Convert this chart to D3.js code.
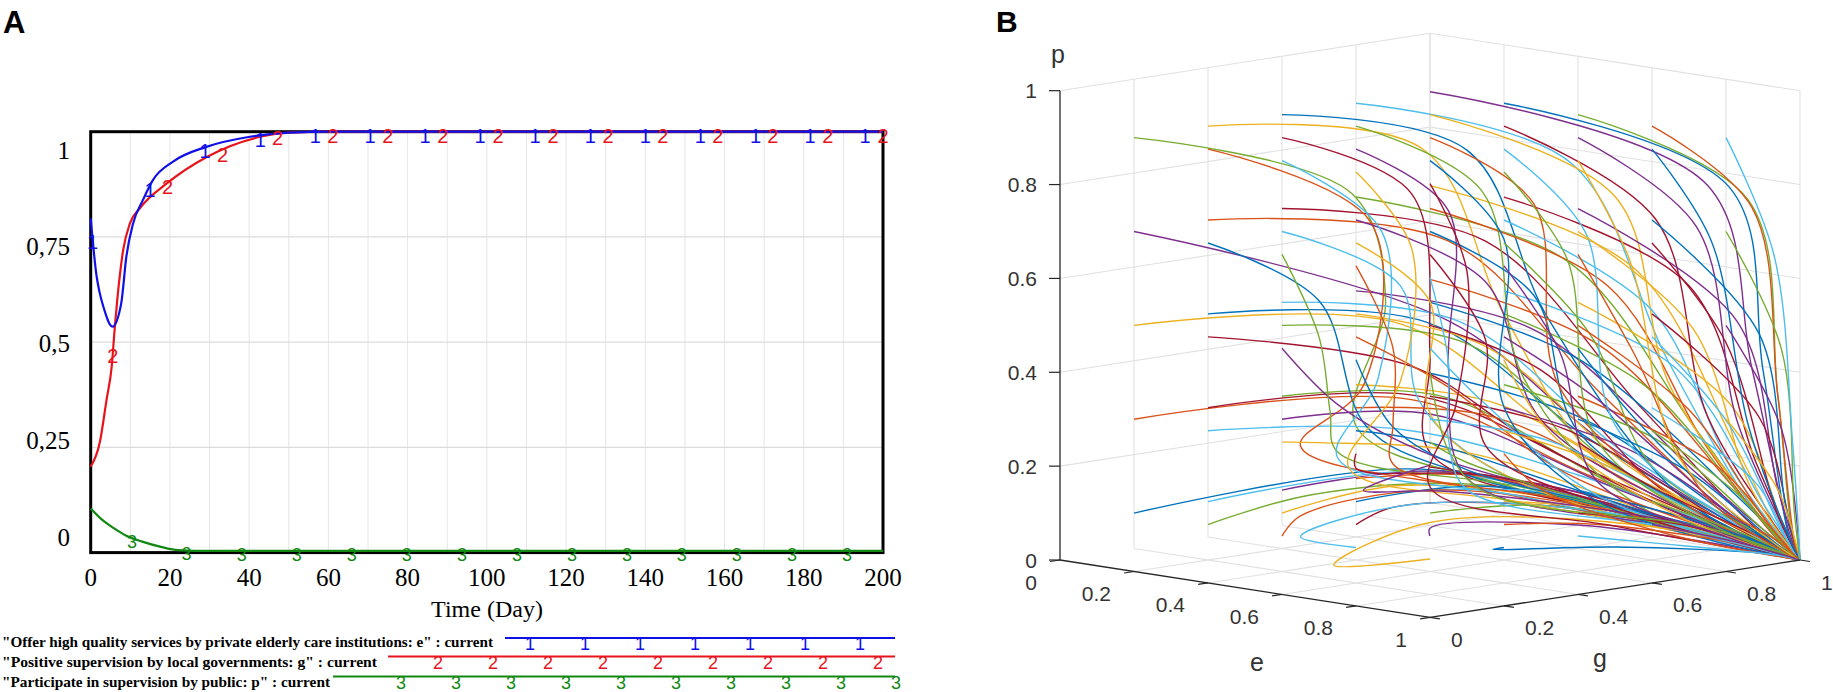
<!DOCTYPE html>
<html>
<head>
<meta charset="utf-8">
<script src="https://cdn.jsdelivr.net/npm/d3@7"></script>
<style>
  body { margin: 0; background: #fff; }
  svg { display: block; }
</style>
</head>
<body>
<svg id="chart" width="1833" height="692"></svg>
<script>
// ---------- Panel A data (Vensim run, "current") ----------
const timeE = [0, 1.5, 2.2, 3.2, 5.5, 7.7, 9, 10.7, 13.2, 15.7, 20.8, 29.2, 40.2, 50, 60, 200];
const valE  = [0.794, 0.656, 0.62, 0.584, 0.537, 0.592, 0.703, 0.782, 0.838, 0.885, 0.929, 0.964, 0.988, 0.998, 1, 1];

const timeG = [0, 2.3, 4, 5.3, 6.1, 6.7, 8.2, 9.9, 12.4, 19.2, 29.3, 42.8, 50, 60, 200];
const valG  = [0.204, 0.262, 0.363, 0.442, 0.537, 0.6, 0.719, 0.782, 0.818, 0.877, 0.94, 0.988, 0.998, 1, 1];

const timeP = [0, 3, 6, 9, 13, 18, 22, 30, 200];
const valP  = [0.105, 0.077, 0.057, 0.04, 0.026, 0.013, 0.006, 0.004, 0.004];

// times where Vensim put the line numbers
const marksE = [0.5, 15.0, 28.9, 42.8, 56.7, 70.5, 84.4, 98.3, 112.2, 126.1, 140.0, 153.9, 167.8, 181.6, 195.5];
const marksG = [5.6, 19.4, 33.3, 47.2, 61.1, 75.0, 88.9, 102.8, 116.7, 130.6, 144.4, 158.3, 172.2, 186.1, 200];
const marksP = [10.4, 24.2, 38.1, 52.0, 65.9, 79.8, 93.7, 107.6, 121.5, 135.4, 149.2, 163.1, 177.0, 190.9];

const xTicksA = [0, 20, 40, 60, 80, 100, 120, 140, 160, 180, 200];
const yTicksA = [0, 0.25, 0.5, 0.75, 1];
const yTickLabelsA = ['0', '0,25', '0,5', '0,75', '1'];

const legendTexts = [
    '"Offer high quality services by private elderly care institutions: e" : current',
    '"Positive supervision by local governments: g" : current',
    '"Participate in supervision by public: p" : current'
];

// ---------- Panel B data (trajectories in e, g, p) ----------
const ticksB = [0, 0.2, 0.4, 0.6, 0.8, 1];
const tickLabelsB = ['0', '0.2', '0.4', '0.6', '0.8', '1'];
const attractor = [1, 1, 0];

// order: e0 outer, g0 middle, p0 inner (0.1 .. 0.9)
const trajectories = [
    // e0 = 0.1
    [[.1,.1,.1],[.08,.85,.1],[.4,.97,.07]],
    [[.1,.1,.3],[.1,.85,.25],[.45,.97,.12]],
    [[.1,.1,.5],[.12,.8,.42],[.4,.95,.2],[.8,.99,.05]],
    [[.1,.1,.7],[.2,.85,.43],[.5,.96,.2],[.85,.99,.05]],
    [[.1,.1,.9],[.15,.64,.72],[.15,.73,.48],[.05,.75,.2],[.3,.92,.08],[.8,.99,.02]],
    [[.1,.3,.1],[.12,.85,.1],[.5,.97,.06]],
    [[.1,.3,.3],[.12,.85,.26],[.5,.97,.12]],
    [[.1,.3,.5],[.14,.85,.42],[.45,.97,.2],[.85,.99,.05]],
    [[.1,.3,.7],[.2,.85,.6],[.5,.96,.3],[.85,.99,.06]],
    [[.1,.3,.9],[.18,.8,.8],[.3,.9,.45],[.5,.96,.15],[.9,.99,.02]],
    [[.1,.5,.1],[.15,.88,.1],[.55,.97,.05]],
    [[.1,.5,.3],[.15,.88,.26],[.55,.97,.1]],
    [[.1,.5,.5],[.18,.9,.42],[.55,.97,.18],[.9,.99,.04]],
    [[.1,.5,.7],[.25,.9,.6],[.6,.97,.28],[.9,.99,.05]],
    [[.1,.5,.9],[.25,.85,.8],[.4,.92,.45],[.7,.98,.1]],
    [[.1,.7,.1],[.2,.93,.09],[.65,.98,.04]],
    [[.1,.7,.3],[.25,.93,.25],[.7,.98,.08]],
    [[.1,.7,.5],[.35,.93,.42],[.75,.98,.15]],
    [[.1,.7,.7],[.45,.92,.58],[.75,.97,.25],[.95,.99,.04]],
    [[.1,.7,.9],[.5,.88,.8],[.7,.94,.4],[.9,.99,.08]],
    [[.1,.9,.1],[.4,.97,.08],[.85,.99,.02]],
    [[.1,.9,.3],[.45,.96,.24],[.85,.99,.06]],
    [[.1,.9,.5],[.5,.96,.4],[.85,.99,.12]],
    [[.1,.9,.7],[.6,.95,.58],[.85,.98,.22],[.97,.99,.03]],
    [[.1,.9,.9],[.8,.95,.78],[.9,.97,.4],[.98,.99,.06]],
    // e0 = 0.3
    [[.3,.1,.1],[.18,.5,.1],[.25,.9,.08],[.7,.98,.03]],
    [[.3,.1,.3],[.22,.7,.22],[.45,.95,.12]],
    [[.3,.1,.5],[.3,.65,.37],[.35,.9,.2],[.75,.98,.05]],
    [[.3,.1,.7],[.3,.4,.54],[.28,.55,.25],[.3,.8,.12],[.7,.97,.04]],
    [[.3,.1,.9],[.34,.5,.7],[.32,.5,.35],[.15,.5,.2],[.35,.85,.08],[.8,.98,.02]],
    [[.3,.3,.1],[.22,.7,.1],[.55,.95,.06]],
    [[.3,.3,.3],[.25,.75,.25],[.55,.96,.1]],
    [[.3,.3,.5],[.3,.8,.4],[.55,.95,.15]],
    [[.3,.3,.7],[.32,.6,.55],[.32,.65,.3],[.35,.85,.12],[.85,.99,.03]],
    [[.3,.3,.9],[.35,.6,.75],[.35,.65,.4],[.3,.7,.18],[.6,.95,.05]],
    [[.3,.5,.1],[.3,.85,.09],[.7,.97,.04]],
    [[.3,.5,.3],[.32,.85,.24],[.7,.97,.08]],
    [[.3,.5,.5],[.35,.8,.4],[.6,.95,.15]],
    [[.3,.5,.7],[.4,.75,.55],[.45,.85,.25],[.8,.98,.05]],
    [[.3,.5,.9],[.42,.72,.75],[.45,.8,.35],[.6,.95,.08]],
    [[.3,.7,.1],[.4,.92,.08],[.8,.98,.03]],
    [[.3,.7,.3],[.45,.92,.22],[.82,.98,.06]],
    [[.3,.7,.5],[.5,.9,.38],[.85,.98,.12]],
    [[.3,.7,.7],[.6,.88,.55],[.8,.95,.22],[.96,.99,.03]],
    [[.3,.7,.9],[.65,.85,.75],[.75,.9,.35],[.95,.99,.05]],
    [[.3,.9,.1],[.6,.97,.07],[.92,.99,.02]],
    [[.3,.9,.3],[.65,.96,.22],[.92,.99,.05]],
    [[.3,.9,.5],[.7,.96,.38],[.92,.99,.1]],
    [[.3,.9,.7],[.75,.95,.56],[.9,.98,.2]],
    [[.3,.9,.9],[.85,.96,.78],[.93,.97,.4],[.98,.99,.05]],
    // e0 = 0.5
    [[.5,.1,.1],[.35,.3,.1],[.3,.7,.1],[.6,.96,.05]],
    [[.5,.1,.3],[.35,.35,.25],[.35,.75,.18],[.65,.96,.06]],
    [[.5,.1,.5],[.45,.3,.35],[.4,.6,.2],[.65,.95,.06]],
    [[.5,.1,.7],[.45,.25,.5],[.38,.35,.32],[.25,.5,.2],[.4,.85,.1],[.8,.98,.03]],
    [[.5,.1,.9],[.52,.35,.72],[.48,.38,.4],[.3,.45,.2],[.4,.85,.08],[.8,.98,.02]],
    [[.5,.3,.1],[.4,.5,.1],[.5,.85,.07],[.85,.98,.02]],
    [[.5,.3,.3],[.42,.55,.24],[.55,.88,.1]],
    [[.5,.3,.5],[.45,.6,.35],[.5,.85,.15],[.85,.98,.03]],
    [[.5,.3,.7],[.5,.5,.55],[.45,.55,.3],[.45,.8,.12],[.85,.98,.02]],
    [[.5,.3,.9],[.55,.5,.75],[.5,.55,.4],[.45,.65,.15],[.75,.95,.04]],
    [[.5,.5,.1],[.5,.8,.08],[.8,.97,.03]],
    [[.5,.5,.3],[.52,.8,.22],[.8,.97,.06]],
    [[.5,.5,.5],[.55,.75,.38],[.7,.93,.12]],
    [[.5,.5,.7],[.58,.7,.55],[.6,.8,.25],[.85,.97,.05]],
    [[.5,.5,.9],[.6,.68,.75],[.6,.75,.35],[.8,.95,.07]],
    [[.5,.7,.1],[.6,.9,.07],[.9,.98,.02]],
    [[.5,.7,.3],[.65,.9,.2],[.9,.98,.05]],
    [[.5,.7,.5],[.7,.88,.35],[.9,.97,.1]],
    [[.5,.7,.7],[.75,.85,.52],[.88,.94,.18]],
    [[.5,.7,.9],[.78,.83,.72],[.85,.9,.3],[.97,.99,.04]],
    [[.5,.9,.1],[.8,.97,.05]],
    [[.5,.9,.3],[.82,.96,.18],[.97,.99,.03]],
    [[.5,.9,.5],[.85,.96,.32],[.97,.99,.06]],
    [[.5,.9,.7],[.88,.95,.5],[.96,.98,.15]],
    [[.5,.9,.9],[.9,.96,.76],[.96,.98,.35],[.99,.99,.05]],
    // e0 = 0.7
    [[.7,.1,.1],[.45,.2,.08],[.4,.55,.1],[.6,.95,.05]],
    [[.7,.1,.3],[.5,.3,.22],[.45,.7,.15],[.7,.96,.05]],
    [[.7,.1,.5],[.6,.3,.32],[.5,.6,.18],[.75,.96,.05]],
    [[.7,.1,.7],[.65,.25,.5],[.5,.4,.3],[.35,.55,.18],[.5,.88,.08],[.85,.98,.02]],
    [[.7,.1,.9],[.7,.25,.72],[.62,.3,.42],[.4,.38,.2],[.45,.8,.08],[.85,.98,.02]],
    [[.7,.3,.1],[.55,.45,.08],[.6,.8,.05],[.9,.98,.01]],
    [[.7,.3,.3],[.6,.5,.22],[.7,.85,.08]],
    [[.7,.3,.5],[.65,.5,.35],[.65,.8,.12]],
    [[.7,.3,.7],[.7,.45,.5],[.6,.55,.25],[.7,.85,.08]],
    [[.7,.3,.9],[.75,.45,.72],[.7,.5,.35],[.7,.75,.12]],
    [[.7,.5,.1],[.7,.75,.07],[.92,.97,.02]],
    [[.7,.5,.3],[.72,.75,.2],[.9,.96,.05]],
    [[.7,.5,.5],[.75,.7,.35],[.88,.92,.1]],
    [[.7,.5,.7],[.78,.65,.5],[.8,.8,.2],[.95,.97,.04]],
    [[.7,.5,.9],[.8,.62,.72],[.8,.7,.3],[.93,.93,.06]],
    [[.7,.7,.1],[.8,.9,.06],[.96,.99,.01]],
    [[.7,.7,.3],[.82,.88,.18],[.96,.98,.03]],
    [[.7,.7,.5],[.85,.85,.32],[.95,.96,.08]],
    [[.7,.7,.7],[.88,.83,.5],[.94,.93,.15]],
    [[.7,.7,.9],[.9,.82,.72],[.93,.9,.3],[.99,.99,.03]],
    [[.7,.9,.1],[.9,.97,.04]],
    [[.7,.9,.3],[.92,.96,.16],[.99,.99,.02]],
    [[.7,.9,.5],[.93,.96,.3],[.99,.99,.05]],
    [[.7,.9,.7],[.94,.95,.48],[.98,.98,.12]],
    [[.7,.9,.9],[.93,.94,.75],[.97,.97,.35],[.995,.99,.04]],
    // e0 = 0.9
    [[.9,.1,.1],[.62,.12,.05],[.5,.5,.08],[.7,.93,.04]],
    [[.9,.1,.3],[.62,.2,.2],[.5,.55,.14],[.75,.95,.05]],
    [[.9,.1,.5],[.8,.25,.3],[.6,.55,.15],[.8,.95,.05]],
    [[.9,.1,.7],[.85,.2,.5],[.7,.35,.3],[.55,.55,.15],[.75,.9,.05]],
    [[.9,.1,.9],[.9,.2,.7],[.82,.25,.4],[.6,.4,.18],[.7,.8,.06]],
    [[.9,.3,.1],[.82,.35,.08],[.8,.7,.04],[.95,.97,.01]],
    [[.9,.3,.3],[.85,.45,.2],[.85,.8,.06]],
    [[.9,.3,.5],[.88,.45,.32],[.88,.8,.1]],
    [[.9,.3,.7],[.9,.45,.5],[.85,.6,.2],[.9,.9,.05]],
    [[.9,.3,.9],[.92,.45,.7],[.9,.55,.3],[.92,.85,.08]],
    [[.9,.5,.1],[.88,.7,.06],[.97,.97,.01]],
    [[.9,.5,.3],[.9,.7,.18],[.97,.95,.04]],
    [[.9,.5,.5],[.92,.65,.32],[.96,.9,.08]],
    [[.9,.5,.7],[.93,.62,.48],[.95,.8,.15]],
    [[.9,.5,.9],[.94,.6,.68],[.95,.72,.25],[.98,.95,.04]],
    [[.9,.7,.1],[.95,.9,.04]],
    [[.9,.7,.3],[.95,.88,.15],[.99,.98,.02]],
    [[.9,.7,.5],[.96,.85,.3],[.99,.97,.05]],
    [[.9,.7,.7],[.97,.83,.48],[.99,.95,.1]],
    [[.9,.7,.9],[.96,.8,.7],[.98,.88,.3],[.995,.98,.04]],
    [[.9,.9,.1],[.97,.97,.04]],
    [[.9,.9,.3],[.97,.97,.15]],
    [[.9,.9,.5],[.98,.97,.28]],
    [[.9,.9,.7],[.98,.97,.45],[.995,.99,.1]],
    [[.9,.9,.9],[.97,.96,.65],[.99,.99,.25]]
];

// MATLAB default color order
const lineColors = ['#0072BD', '#D95319', '#EDB120', '#7E2F8E', '#77AC30', '#4DBEEE', '#A2142F'];

const svg = d3.select('#chart');
const serif = '"Liberation Serif", "Times New Roman", serif';
const sans = '"Liberation Sans", Arial, Helvetica, sans-serif';

// panel letters
svg.append('text').attr('x', 3).attr('y', 33).text('A')
    .attr('font-family', sans).attr('font-weight', 'bold').attr('font-size', 31);
svg.append('text').attr('x', 996).attr('y', 32).text('B')
    .attr('font-family', sans).attr('font-weight', 'bold').attr('font-size', 30);

// =====================================================
// Panel A
// =====================================================
const gA = svg.append('g');
const xA = d3.scaleLinear().domain([0, 200]).range([90.7, 883]);
const yA = d3.scaleLinear().domain([0, 1]).range([552.6, 131.7]);
// Vensim spreads its value labels a bit inside the frame
const yLab = d3.scaleLinear().domain([0, 1]).range([537, 150]);

// grid
gA.append('g').selectAll('line')
    .data(d3.range(10, 200, 10))
    .join('line')
    .attr('x1', d => xA(d)).attr('x2', d => xA(d))
    .attr('y1', yA(0)).attr('y2', yA(1))
    .attr('stroke', '#e6e6e6').attr('stroke-width', 1);
gA.append('g').selectAll('line')
    .data([0.25, 0.5, 0.75])
    .join('line')
    .attr('x1', xA(0)).attr('x2', xA(200))
    .attr('y1', d => yA(d)).attr('y2', d => yA(d))
    .attr('stroke', '#dcdcdc').attr('stroke-width', 1.2);

// frame
gA.append('rect')
    .attr('x', xA(0)).attr('y', yA(1))
    .attr('width', xA(200) - xA(0)).attr('height', yA(0) - yA(1))
    .attr('fill', 'none').attr('stroke', '#000').attr('stroke-width', 3);

// tick labels
gA.append('g').selectAll('text')
    .data(xTicksA)
    .join('text')
    .attr('x', d => xA(d)).attr('y', 586)
    .attr('text-anchor', 'middle')
    .attr('font-family', serif).attr('font-size', 25)
    .text(d => d);
gA.append('g').selectAll('text')
    .data(yTicksA)
    .join('text')
    .attr('x', 70).attr('y', d => yLab(d) + 8.5)
    .attr('text-anchor', 'end')
    .attr('font-family', serif).attr('font-size', 25)
    .text((d, i) => yTickLabelsA[i]);

gA.append('text')
    .attr('x', 487).attr('y', 617)
    .attr('text-anchor', 'middle')
    .attr('font-family', serif).attr('font-size', 24)
    .text('Time (Day)');

const seriesA = [
    { t: timeP, v: valP, color: '#118811', num: '3', marks: marksP, size: 18, dy: 10 },
    { t: timeG, v: valG, color: '#e8141c', num: '2', marks: marksG, size: 20, dy: 11 },
    { t: timeE, v: valE, color: '#1010e6', num: '1', marks: marksE, size: 20, dy: 11 }
];

const lineA = d3.line()
    .x(d => xA(d[0]))
    .y(d => yA(d[1]))
    .curve(d3.curveMonotoneX);

function valueAt(s, t) {
    const i = d3.bisectLeft(s.t, t);
    if (i <= 0) return s.v[0];
    if (i >= s.t.length) return s.v[s.v.length - 1];
    const t0 = s.t[i - 1], t1 = s.t[i];
    return s.v[i - 1] + (s.v[i] - s.v[i - 1]) * (t - t0) / (t1 - t0);
}

seriesA.forEach(s => {
    gA.append('path')
        .datum(s.t.map((t, i) => [t, s.v[i]]))
        .attr('d', lineA)
        .attr('fill', 'none')
        .attr('stroke', s.color)
        .attr('stroke-width', 2.2);
});
seriesA.forEach(s => {
    gA.append('g').selectAll('text')
        .data(s.marks)
        .join('text')
        .attr('x', d => xA(d))
        .attr('y', d => yA(valueAt(s, d)) + s.dy)
        .attr('text-anchor', 'middle')
        .attr('font-family', sans).attr('font-size', s.size)
        .attr('fill', s.color)
        .text(s.num);
});

// legend
const legendY = [638, 656.5, 676.5];
const legendStart = [505, 388, 333];
const legendFirstMark = [530, 438, 401];
const legendWidths = [491, 375, 328];
const legendOrder = [2, 1, 0]; // index into seriesA for e, g, p
const gL = gA.append('g');
legendTexts.forEach((txt, i) => {
    const s = seriesA[legendOrder[i]];
    gL.append('text')
        .attr('x', 2).attr('y', legendY[i] + 9 + (i === 0 ? 0 : 1))
        .attr('font-family', serif).attr('font-weight', 'bold').attr('font-size', 15.5)
        .attr('textLength', legendWidths[i]).attr('lengthAdjust', 'spacingAndGlyphs')
        .text(txt);
    gL.append('line')
        .attr('x1', legendStart[i]).attr('x2', 895)
        .attr('y1', legendY[i]).attr('y2', legendY[i])
        .attr('stroke', s.color).attr('stroke-width', 2.2);
    gL.append('g').selectAll('text')
        .data(d3.range(legendFirstMark[i], 900, 55))
        .join('text')
        .attr('x', d => d).attr('y', legendY[i] + 12)
        .attr('text-anchor', 'middle')
        .attr('font-family', sans).attr('font-size', 18)
        .attr('fill', s.color)
        .text(s.num);
});

// =====================================================
// Panel B (3-D view, e to the front-left, g to the front-right)
// =====================================================
const gB = svg.append('g');
const X0 = 1060, Y0 = 560;
const eX = d3.scaleLinear().domain([0, 1]).range([0, 370]);
const eY = d3.scaleLinear().domain([0, 1]).range([0, 57.4]);
const gX = d3.scaleLinear().domain([0, 1]).range([0, 370]);
const gY = d3.scaleLinear().domain([0, 1]).range([0, -57.4]);
const pY = d3.scaleLinear().domain([0, 1]).range([0, -469.3]);

function proj(d) {
    return [X0 + eX(d[0]) + gX(d[1]), Y0 + eY(d[0]) + gY(d[1]) + pY(d[2])];
}

// grid segments in data space
const gridSegs = [];
ticksB.slice(1).forEach(v => {
    gridSegs.push([[0, v, 0], [0, v, 1]]);   // wall e = 0, verticals
    gridSegs.push([[0, 0, v], [0, 1, v]]);   // wall e = 0, horizontals
    gridSegs.push([[0, 1, v], [1, 1, v]]);   // wall g = 1, horizontals
    gridSegs.push([[0, v, 0], [1, v, 0]]);   // floor, g constant
});
ticksB.forEach(v => {
    gridSegs.push([[v, 1, 0], [v, 1, 1]]);   // wall g = 1, verticals
});
ticksB.slice(1, 5).forEach(v => {
    gridSegs.push([[v, 0, 0], [v, 1, 0]]);   // floor, e constant
});

gB.append('g').selectAll('line')
    .data(gridSegs)
    .join('line')
    .attr('x1', d => proj(d[0])[0]).attr('y1', d => proj(d[0])[1])
    .attr('x2', d => proj(d[1])[0]).attr('y2', d => proj(d[1])[1])
    .attr('stroke', '#e1e1e1').attr('stroke-width', 1.1);

// trajectories
const lineB = d3.line().curve(d3.curveCatmullRom.alpha(0.5));
gB.append('g').selectAll('path')
    .data(trajectories)
    .join('path')
    .attr('d', d => lineB(d.concat([attractor]).map(proj)))
    .attr('fill', 'none')
    .attr('stroke', (d, i) => lineColors[i % 7])
    .attr('stroke-width', 1.4);

// axes
const axisColor = '#262626';
const axes = [
    [[0, 0, 0], [0, 0, 1]],
    [[0, 0, 0], [1, 0, 0]],
    [[1, 0, 0], [1, 1, 0]]
];
gB.append('g').selectAll('line')
    .data(axes)
    .join('line')
    .attr('x1', d => proj(d[0])[0]).attr('y1', d => proj(d[0])[1])
    .attr('x2', d => proj(d[1])[0]).attr('y2', d => proj(d[1])[1])
    .attr('stroke', axisColor).attr('stroke-width', 1.3);

const gTicks = gB.append('g').attr('stroke', axisColor).attr('stroke-width', 1.2);
ticksB.forEach(v => {
    const pp = proj([0, 0, v]);
    gTicks.append('line').attr('x1', pp[0] - 11).attr('y1', pp[1]).attr('x2', pp[0]).attr('y2', pp[1]);
    const pe = proj([v, 0, 0]);
    gTicks.append('line').attr('x1', pe[0]).attr('y1', pe[1]).attr('x2', pe[0] - 9.9).attr('y2', pe[1] + 1.5);
    const pg = proj([1, v, 0]);
    gTicks.append('line').attr('x1', pg[0]).attr('y1', pg[1]).attr('x2', pg[0] + 9.9).attr('y2', pg[1] + 1.5);
});

const gTL = gB.append('g')
    .attr('font-family', sans).attr('font-size', 21).attr('fill', '#333');
ticksB.forEach((v, i) => {
    const pp = proj([0, 0, v]);
    gTL.append('text').attr('x', 1037).attr('y', pp[1] + 7.5)
        .attr('text-anchor', 'end').text(tickLabelsB[i]);
    const pe = proj([v, 0, 0]);
    gTL.append('text').attr('x', pe[0] - 23).attr('y', pe[1] + 29.5)
        .attr('text-anchor', 'end').text(tickLabelsB[i]);
    const pg = proj([1, v, 0]);
    gTL.append('text').attr('x', pg[0] + 21).attr('y', pg[1] + 29.5)
        .attr('text-anchor', 'start').text(tickLabelsB[i]);
});

const gAx = gB.append('g')
    .attr('font-family', sans).attr('font-size', 25).attr('fill', '#333')
    .attr('text-anchor', 'middle');
gAx.append('text').attr('x', 1058).attr('y', 63).text('p');
gAx.append('text').attr('x', 1257).attr('y', 671).text('e');
gAx.append('text').attr('x', 1600).attr('y', 667).text('g');
</script>
</body>
</html>
